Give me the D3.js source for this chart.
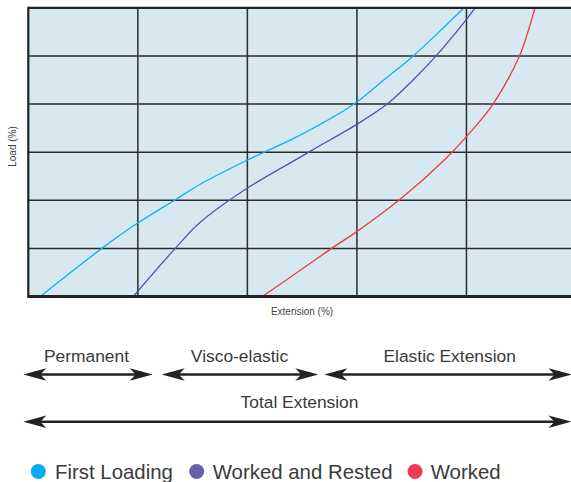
<!DOCTYPE html>
<html><head><meta charset="utf-8">
<script src="https://cdn.jsdelivr.net/npm/d3@7"></script>
<style>html,body{margin:0;padding:0;background:#fff;}svg{display:block;}</style>
</head><body>
<svg id="c" width="571" height="482"></svg>
<script>
// ---- data (extension units 0-5, load units 0-6) ----
const firstLoadingX = [0.109, 0.684, 0.995, 1.350, 1.569, 1.998, 2.482, 2.974, 3.212, 3.504, 3.741, 3.978];
const firstLoadingY = [0, 1.021, 1.521, 2.021, 2.333, 2.833, 3.354, 4.0, 4.4375, 4.979, 5.479, 6.0];
const workedRestedX = [0.958, 1.350, 1.569, 1.998, 2.436, 2.591, 3.002, 3.276, 3.513, 3.714, 3.996, 4.078];
const workedRestedY = [0, 1.021, 1.542, 2.25, 2.833, 3.042, 3.583, 4.0, 4.5, 4.979, 5.75, 6.0];
const workedX = [2.135, 2.454, 2.783, 3.002, 3.394, 3.796, 3.996, 4.243, 4.480, 4.553, 4.626];
const workedY = [0, 0.5, 1.021, 1.354, 2.021, 2.833, 3.313, 4.0, 4.979, 5.438, 6.0];
const seriesNames = ["First Loading", "Worked and Rested", "Worked"];
const seriesColors = ["#12b0ea", "#5553a6", "#ee3b3f"];
const legendColors = ["#00aeef", "#6860ad", "#ec3b55"];
const xGridTicks = [1, 2, 3, 4];
const yGridTicks = [1, 2, 3, 4, 5];
const rangeLabels = ["Permanent", "Visco-elastic", "Elastic Extension"];
const totalLabel = "Total Extension";
const xAxisLabel = "Extension (%)";
const yAxisLabel = "Load (%)";

const svg = d3.select("#c");
const x = d3.scaleLinear().domain([0, 5]).range([28.3, 576]);
const y = d3.scaleLinear().domain([0, 6]).range([296.5, 7.8]);

svg.append("defs").append("clipPath").attr("id", "clip")
  .append("rect").attr("x", x(0)).attr("y", y(6)).attr("width", x(5) - x(0)).attr("height", y(0) - y(6));

// plot background
svg.append("rect").attr("x", x(0)).attr("y", y(6)).attr("width", x(5) - x(0)).attr("height", y(0) - y(6))
  .attr("fill", "#d8e8f0");

// grid
const g = svg.append("g");
g.selectAll("line.v").data(xGridTicks).join("line")
  .attr("x1", d => x(d)).attr("x2", d => x(d)).attr("y1", y(6)).attr("y2", y(0))
  .attr("stroke", "#2b2b2b").attr("stroke-width", 1.5);
g.selectAll("line.h").data(yGridTicks).join("line")
  .attr("x1", x(0)).attr("x2", x(5)).attr("y1", d => y(d)).attr("y2", d => y(d))
  .attr("stroke", "#2b2b2b").attr("stroke-width", 1.5);

// curves
const series = [
  firstLoadingX.map((v, i) => [v, firstLoadingY[i]]),
  workedRestedX.map((v, i) => [v, workedRestedY[i]]),
  workedX.map((v, i) => [v, workedY[i]])
];
const line = d3.line().x(d => x(d[0])).y(d => y(d[1])).curve(d3.curveCatmullRom.alpha(0.5));
svg.append("g").attr("clip-path", "url(#clip)").selectAll("path").data(series).join("path")
  .attr("d", line).attr("fill", "none")
  .attr("stroke", (d, i) => seriesColors[i]).attr("stroke-width", 1.3);

// frame: left, top, bottom
svg.append("line").attr("x1", x(0)).attr("x2", 571).attr("y1", y(6)).attr("y2", y(6)).attr("stroke", "#222").attr("stroke-width", 2.2);
svg.append("line").attr("x1", x(0)).attr("x2", 571).attr("y1", y(0)).attr("y2", y(0)).attr("stroke", "#222").attr("stroke-width", 2.8);
svg.append("line").attr("x1", x(0)).attr("x2", x(0)).attr("y1", y(6) - 1.1).attr("y2", y(0) + 1.4).attr("stroke", "#222").attr("stroke-width", 2.2);

// axis labels
const font = "'Liberation Sans', Arial, Helvetica, sans-serif";
svg.append("text").attr("x", 302).attr("y", 314.5).attr("text-anchor", "middle")
  .attr("font-family", font).attr("font-size", 10).attr("fill", "#444").text(xAxisLabel);
svg.append("text").attr("transform", "translate(15.5,146.5) rotate(-90)").attr("text-anchor", "middle")
  .attr("font-family", font).attr("font-size", 10).attr("fill", "#444").text(yAxisLabel);

// range arrows
function arrow(x1, x2, yy) {
  const L = 23, w = 6.3, n = 17;
  const a = svg.append("g");
  a.append("line").attr("x1", x1 + 8).attr("x2", x2 - 8).attr("y1", yy).attr("y2", yy)
    .attr("stroke", "#222").attr("stroke-width", 2.4);
  a.append("path").attr("d", `M${x1},${yy} L${x1 + L},${yy - w} L${x1 + n},${yy} L${x1 + L},${yy + w} Z`).attr("fill", "#222");
  a.append("path").attr("d", `M${x2},${yy} L${x2 - L},${yy - w} L${x2 - n},${yy} L${x2 - L},${yy + w} Z`).attr("fill", "#222");
}
const arrowSpans = [[23.3, 152.7], [161.7, 318.3], [324.3, 571.5]];
const labelCenters = [86.5, 239.5, 449.7];
arrowSpans.forEach((s, i) => arrow(s[0], s[1], 374.5));
arrow(23.3, 571.5, 421.7);
svg.selectAll("text.rl").data(rangeLabels).join("text").attr("class", "rl")
  .attr("x", (d, i) => labelCenters[i]).attr("y", 361.7).attr("text-anchor", "middle")
  .attr("font-family", font).attr("font-size", 17.4).attr("fill", "#3a3a3a").text(d => d);
svg.append("text").attr("x", 299.5).attr("y", 407.7).attr("text-anchor", "middle")
  .attr("font-family", font).attr("font-size", 17.4).attr("fill", "#3a3a3a").text(totalLabel);

// legend
const legendDots = [38.3, 196.7, 415];
const legendText = [55, 212.7, 430.7];
const lg = svg.append("g");
seriesNames.forEach((n, i) => {
  lg.append("circle").attr("cx", legendDots[i]).attr("cy", 471.5).attr("r", 7.5).attr("fill", legendColors[i]);
  lg.append("text").attr("x", legendText[i]).attr("y", 478.5).attr("font-family", font)
    .attr("font-size", 20.4).attr("fill", "#3a3a3a").text(n);
});
</script>
</body></html>
